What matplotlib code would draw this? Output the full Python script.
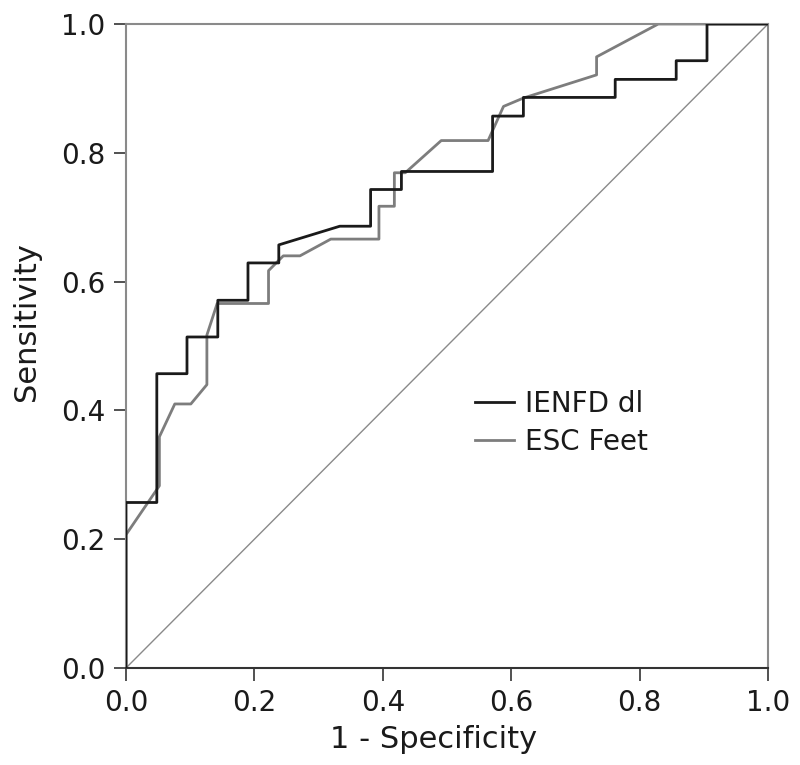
import matplotlib
matplotlib.use("Agg")
import matplotlib.pyplot as plt

# IENFD dl ROC curve (1 - specificity, sensitivity)
ienfd_fpr = [0.0, 0.0, 0.048, 0.048, 0.095, 0.095, 0.143, 0.143, 0.190, 0.190,
             0.238, 0.238, 0.333, 0.381, 0.381, 0.429, 0.429, 0.571, 0.571,
             0.619, 0.619, 0.762, 0.762, 0.857, 0.857, 0.905, 0.905, 1.0]
ienfd_tpr = [0.0, 0.257, 0.257, 0.457, 0.457, 0.514, 0.514, 0.571, 0.571, 0.629,
             0.629, 0.657, 0.686, 0.686, 0.743, 0.743, 0.771, 0.771, 0.857,
             0.857, 0.886, 0.886, 0.914, 0.914, 0.943, 0.943, 1.0, 1.0]

# ESC Feet ROC curve
esc_fpr = [0.0, 0.0, 0.052, 0.052, 0.076, 0.101, 0.126, 0.126, 0.142, 0.222,
           0.222, 0.245, 0.271, 0.319, 0.394, 0.394, 0.418, 0.418, 0.435,
           0.491, 0.564, 0.588, 0.619, 0.733, 0.733, 0.829, 1.0]
esc_tpr = [0.0, 0.207, 0.283, 0.359, 0.410, 0.410, 0.440, 0.517, 0.566, 0.566,
           0.617, 0.640, 0.640, 0.666, 0.666, 0.717, 0.717, 0.769, 0.769,
           0.819, 0.819, 0.872, 0.885, 0.921, 0.949, 1.0, 1.0]

ref_line = [0.0, 1.0]
ticks = [0.0, 0.2, 0.4, 0.6, 0.8, 1.0]
tick_labels = ["0.0", "0.2", "0.4", "0.6", "0.8", "1.0"]
series_labels = ["IENFD dl", "ESC Feet"]

plt.rcParams['font.family'] = ['DejaVu Sans']

fig = plt.figure(figsize=(8.0, 7.65), dpi=100)
ax = fig.add_axes([126 / 800, 1 - 668 / 765, 642 / 800, 644 / 765])

ax.plot(ref_line, ref_line, color='#8a8a8a', lw=1.0, zorder=1)
ax.plot(ienfd_fpr, ienfd_tpr, color='#1a1a1a', lw=2.0, label=series_labels[0], zorder=3)
ax.plot(esc_fpr, esc_tpr, color='#7d7d7d', lw=2.0, label=series_labels[1], zorder=2)

ax.set_xlim(0, 1)
ax.set_ylim(0, 1)
ax.set_xticks(ticks)
ax.set_xticklabels(tick_labels)
ax.set_yticks(ticks)
ax.set_yticklabels(tick_labels)
ax.tick_params(direction='out', length=9, width=1.2, color='#333333',
               labelsize=20, pad=6, labelcolor='#1a1a1a')

for side in ['top', 'right', 'left']:
    ax.spines[side].set_color('#8a8a8a')
    ax.spines[side].set_linewidth(1.5)
ax.spines['bottom'].set_color('#333333')
ax.spines['bottom'].set_linewidth(1.5)

ax.set_xlabel("1 - Specificity", fontsize=22, color='#1a1a1a', va='center')
ax.set_ylabel("Sensitivity", fontsize=22, color='#1a1a1a', va='center')
ax.xaxis.set_label_coords((434 - 126) / 642, (668 - 740) / 644)
ax.yaxis.set_label_coords((27 - 126) / 642, (668 - 322) / 644)

leg = ax.legend(loc='center left', bbox_to_anchor=((475 - 126) / 642, (668 - 423) / 644),
                frameon=False, fontsize=20, handlelength=1.4, handletextpad=0.4,
                labelspacing=0.35, borderpad=0, borderaxespad=0)
for t in leg.get_texts():
    t.set_color('#1a1a1a')

fig.savefig("out.png", dpi=100)
